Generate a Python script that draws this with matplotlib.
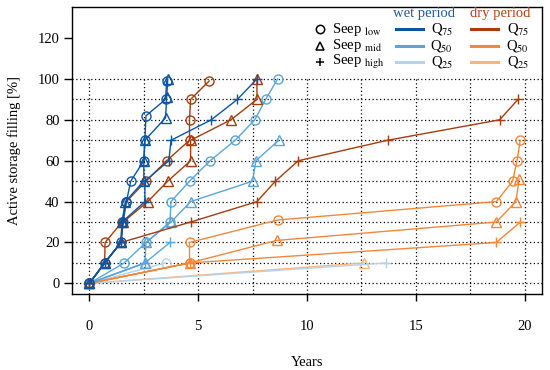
import matplotlib
matplotlib.use("Agg")
import matplotlib.pyplot as plt
from matplotlib.lines import Line2D

plt.rcParams['font.family'] = ['Liberation Serif', 'DejaVu Serif']
plt.rcParams['mathtext.fontset'] = 'stix'

# Colours: wet period (blues), dry period (oranges)
col_wet = {'Q75': '#0c55a3', 'Q50': '#5aa6dc', 'Q25': '#b5d3ea'}
col_dry = {'Q75': '#a83c0c', 'Q50': '#f5873a', 'Q25': '#fdb577'}
markers = {'low': 'o', 'mid': '^', 'high': '+'}

# years until a filling level is reached, wet period
wet_q75_low_yr = [0, 0.7, 1.45, 1.55, 1.7, 1.9, 2.5, 2.55, 2.6, 3.5, 3.55]
wet_q75_low_pct = [0, 10, 20, 30, 40, 50, 60, 70, 82, 90, 99]
wet_q75_mid_yr = [0, 0.7, 1.45, 1.5, 1.65, 2.5, 2.5, 2.55, 3.5, 3.55, 3.6]
wet_q75_mid_pct = [0, 10, 20, 30, 40, 50, 60, 70, 81, 91, 100]
wet_q75_high_yr = [0, 0.7, 1.45, 1.5, 2.55, 2.55, 3.65, 3.75, 5.6, 6.8, 7.7]
wet_q75_high_pct = [0, 10, 20, 30, 40, 50, 60, 70, 80, 90, 100]

wet_q50_low_yr = [0, 1.6, 2.6, 3.7, 3.75, 4.6, 5.55, 6.7, 7.6, 8.1, 8.65]
wet_q50_low_pct = [0, 10, 20, 30, 40, 50, 60, 70, 80, 90, 100]
wet_q50_mid_yr = [0, 2.55, 2.6, 3.75, 4.65, 7.5, 7.65, 8.7]
wet_q50_mid_pct = [0, 10, 20, 30, 40, 50, 60, 70]
wet_q50_high_yr = [0, 2.55, 3.7]
wet_q50_high_pct = [0, 10, 20]

wet_q25_low_yr = [0, 3.5]
wet_q25_low_pct = [0, 10]
wet_q25_mid_yr = [0, 2.6]
wet_q25_mid_pct = [0, 10]
wet_q25_high_yr = [0, 13.65]
wet_q25_high_pct = [0, 10]

# dry period
dry_q75_low_yr = [0, 0.7, 0.72, 1.5, 1.7, 2.6, 3.55, 4.6, 4.6, 4.65, 5.5]
dry_q75_low_pct = [0, 10, 20, 30, 40, 50, 60, 70, 80, 90, 99]
dry_q75_mid_yr = [0, 0.7, 1.45, 1.55, 2.68, 3.6, 4.65, 4.65, 6.5, 7.7, 7.7]
dry_q75_mid_pct = [0, 10, 20, 30, 40, 50, 60, 70, 80, 90, 100]
dry_q75_high_yr = [0, 0.7, 1.45, 4.65, 7.7, 8.55, 9.6, 13.7, 18.85, 19.7]
dry_q75_high_pct = [0, 10, 20, 30, 40, 50, 60, 70, 80, 90]

dry_q50_low_yr = [0, 4.6, 4.6, 8.65, 18.7, 19.45, 19.65, 19.8]
dry_q50_low_pct = [0, 10, 20, 31, 40, 50, 60, 70]
dry_q50_mid_yr = [0, 4.6, 8.6, 18.7, 19.6, 19.75]
dry_q50_mid_pct = [0, 10, 21, 30, 40, 51]
dry_q50_high_yr = [0, 4.6, 18.7, 19.8]
dry_q50_high_pct = [0, 10, 20, 30]

dry_q25_low_yr = [0, 4.6]
dry_q25_low_pct = [0, 10]
dry_q25_mid_yr = [0, 12.6]
dry_q25_mid_pct = [0, 10]
dry_q25_high_yr = [0]
dry_q25_high_pct = [0]

series = [
    (col_dry['Q25'], 'low', dry_q25_low_yr, dry_q25_low_pct),
    (col_dry['Q25'], 'mid', dry_q25_mid_yr, dry_q25_mid_pct),
    (col_dry['Q25'], 'high', dry_q25_high_yr, dry_q25_high_pct),
    (col_wet['Q25'], 'low', wet_q25_low_yr, wet_q25_low_pct),
    (col_wet['Q25'], 'mid', wet_q25_mid_yr, wet_q25_mid_pct),
    (col_wet['Q25'], 'high', wet_q25_high_yr, wet_q25_high_pct),
    (col_dry['Q50'], 'low', dry_q50_low_yr, dry_q50_low_pct),
    (col_dry['Q50'], 'mid', dry_q50_mid_yr, dry_q50_mid_pct),
    (col_dry['Q50'], 'high', dry_q50_high_yr, dry_q50_high_pct),
    (col_wet['Q50'], 'low', wet_q50_low_yr, wet_q50_low_pct),
    (col_wet['Q50'], 'mid', wet_q50_mid_yr, wet_q50_mid_pct),
    (col_wet['Q50'], 'high', wet_q50_high_yr, wet_q50_high_pct),
    (col_dry['Q75'], 'low', dry_q75_low_yr, dry_q75_low_pct),
    (col_dry['Q75'], 'mid', dry_q75_mid_yr, dry_q75_mid_pct),
    (col_dry['Q75'], 'high', dry_q75_high_yr, dry_q75_high_pct),
    (col_wet['Q75'], 'low', wet_q75_low_yr, wet_q75_low_pct),
    (col_wet['Q75'], 'mid', wet_q75_mid_yr, wet_q75_mid_pct),
    (col_wet['Q75'], 'high', wet_q75_high_yr, wet_q75_high_pct),
]

W, H = 550, 370
fig = plt.figure(figsize=(W / 100, H / 100), dpi=100)
ax = fig.add_axes([72 / W, (H - 294) / H, 470 / W, 287 / H])

# dotted grid (R-style abline)
for yv in range(0, 101, 10):
    ax.axhline(yv, color='black', lw=0.9, ls=(0, (1, 2)), zorder=0)
ax.vlines([i * 2.5 for i in range(9)], -5.2, 100, color='black', lw=0.9,
          ls=(0, (1, 2)), zorder=0)

for c, seep, xs, ys in series:
    m = markers[seep]
    ax.plot(xs, ys, color=c, lw=1.0, marker=m, ms=7 if m == '+' else 6.5,
            mfc='none', mec=c, mew=1.0)

ax.set_xlim(-0.8, 20.8)
ax.set_ylim(-5.2, 135.2)
ax.set_xticks([0, 5, 10, 15, 20])
ax.set_yticks(range(0, 121, 20))
ax.tick_params(axis='x', length=5, width=1, pad=14, labelsize=10.5)
ax.tick_params(axis='y', length=6, width=1, pad=3, labelsize=10.5)
for s in ax.spines.values():
    s.set_linewidth(1.0)
ax.set_xlabel('Years', fontsize=10.5, labelpad=16)
ax.set_ylabel('Active storage filling [%]', fontsize=10.5, labelpad=12)


def fx(px):
    return px / W


def fy(py):
    return 1 - py / H


# legend drawn by hand
fig.text(fx(424), fy(14), 'wet period', color='#1c5aa6', fontsize=10.5,
         ha='center', va='center')
fig.text(fx(500), fy(14), 'dry period', color='#b3420e', fontsize=10.5,
         ha='center', va='center')
rows = [29, 45.5, 62]
seep_names = ['low', 'mid', 'high']
for py, name in zip(rows, seep_names):
    fig.add_artist(Line2D([fx(320)], [fy(py)], marker=markers[name], ms=6,
                          mfc='none', mec='black', mew=1.1, color='black'))
    fig.text(fx(332), fy(py), 'Seep $_{\\mathrm{' + name + '}}$', fontsize=10.5,
             ha='left', va='center')
for py, q in zip(rows, ['Q75', 'Q50', 'Q25']):
    lab = 'Q$_{' + q[1:] + '}$'
    fig.add_artist(Line2D([fx(396), fx(423)], [fy(py), fy(py)],
                          color=col_wet[q], lw=2.2))
    fig.add_artist(Line2D([fx(471), fx(498)], [fy(py), fy(py)],
                          color=col_dry[q], lw=2.2))
    fig.text(fx(453), fy(py), lab, fontsize=10.5, ha='right', va='center')
    fig.text(fx(529), fy(py), lab, fontsize=10.5, ha='right', va='center')

fig.savefig('out.png', dpi=100)
